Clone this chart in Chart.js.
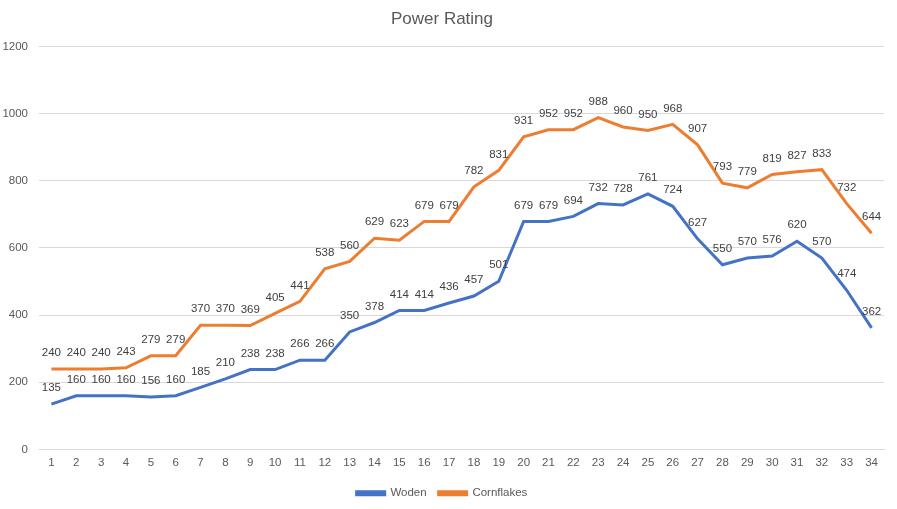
<!DOCTYPE html>
<html>
<head>
<meta charset="utf-8">
<script src="https://cdn.jsdelivr.net/npm/chart.js@4/dist/chart.umd.min.js"></script>
<style>
  html, body { margin: 0; padding: 0; background: #fff; }
  #wrap { width: 897px; height: 509px; }
</style>
</head>
<body>
<div id="wrap"><canvas id="myChart"></canvas></div>
<script>
const labels = [];
for (let i = 1; i <= 34; i++) labels.push(String(i));

const woden = [135, 160, 160, 160, 156, 160, 185, 210, 238, 238, 266, 266, 350, 378, 414, 414, 436, 457, 501,
  679, 679, 694, 732, 728, 761, 724, 627, 550, 570, 576, 620, 570, 474, 362];
const cornflakes = [240, 240, 240, 243, 279, 279, 370, 370, 369, 405, 441, 538, 560, 629, 623, 679, 679, 782, 831,
  931, 952, 952, 988, 960, 950, 968, 907, 793, 779, 819, 827, 833, 732, 644];

const fontName = "'Liberation Sans', Arial, sans-serif";

// draws the value above each point
const valueLabels = {
  id: "valueLabels",
  afterDatasetsDraw: (chart) => {
    const { ctx } = chart;
    ctx.save();
    ctx.font = "11.5px " + fontName;
    ctx.fillStyle = "#404040";
    ctx.textAlign = "center";
    ctx.textBaseline = "middle";
    chart.data.datasets.forEach((ds, i) => {
      const meta = chart.getDatasetMeta(i);
      meta.data.forEach((pt, j) => {
        ctx.fillText(ds.data[j], pt.x, pt.y - 16);
      });
    });
    ctx.restore();
  },
};

new Chart("myChart", {
  type: "line",
  data: {
    labels: labels,
    datasets: [
      {
        label: "Woden",
        data: woden,
        borderColor: "#4472C4",
        backgroundColor: "#4472C4",
        borderWidth: 3,
        pointRadius: 0,
        tension: 0,
      },
      {
        label: "Cornflakes",
        data: cornflakes,
        borderColor: "#ED7D31",
        backgroundColor: "#ED7D31",
        borderWidth: 3,
        pointRadius: 0,
        tension: 0,
      },
    ],
  },
  options: {
    responsive: true,
    maintainAspectRatio: false,
    animation: false,
    layout: { padding: { left: 0, right: 13, top: 0, bottom: 0 } },
    plugins: {
      title: {
        display: true,
        text: "Power Rating",
        color: "#595959",
        font: { family: fontName, size: 17, weight: "normal" },
        padding: { top: 9, bottom: 17 },
      },
      legend: {
        position: "bottom",
        labels: {
          color: "#595959",
          font: { family: fontName, size: 11.5 },
          boxWidth: 28,
          boxHeight: 3,
          padding: 12,
        },
      },
      tooltip: { enabled: false },
    },
    scales: {
      x: {
        offset: true,
        grid: { display: false, drawTicks: false },
        border: { color: "#d9d9d9" },
        ticks: {
          color: "#595959",
          font: { family: fontName, size: 11.5 },
          maxRotation: 0,
          autoSkip: false,
          padding: 6,
        },
        afterFit: (scale) => { scale.height = 26; },
      },
      y: {
        min: 0,
        max: 1200,
        ticks: {
          stepSize: 200,
          color: "#595959",
          font: { family: fontName, size: 11.5 },
          padding: 11,
          callback: (v) => String(v),
        },
        grid: { color: "#d9d9d9", drawTicks: false },
        border: { display: false },
        afterFit: (scale) => { scale.width = 39; },
      },
    },
  },
  plugins: [valueLabels],
});
</script>
</body>
</html>
